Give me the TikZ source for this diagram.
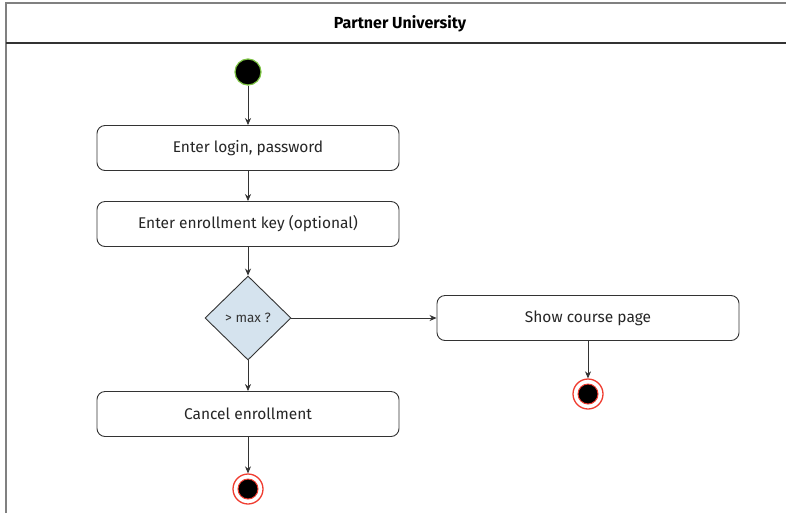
\documentclass[tikz,border=0pt]{standalone}
\usepackage{fontspec}
\setmainfont{Fira Sans}
\usetikzlibrary{shapes.geometric,arrows.meta}
\definecolor{framegray}{HTML}{808080}
\definecolor{linegray}{HTML}{333333}
\definecolor{diafill}{HTML}{D5E3EE}
\definecolor{startgreen}{HTML}{7CC242}
\definecolor{endred}{HTML}{F03C30}
\tikzset{
  actbox/.style={draw=linegray, line width=0.9pt, rounded corners=8pt, minimum width=302pt, minimum height=45pt, inner sep=0pt, font=\fontsize{15.5}{18}\selectfont, text=black!85},
  decbox/.style={draw=linegray, line width=0.9pt, diamond, fill=diafill, minimum width=86pt, minimum height=84pt, inner sep=0pt, aspect=1, font=\fontsize{13.5}{16}\selectfont, text=black!80},
  startnode/.style={circle, fill=black, draw=startgreen, line width=1.2pt, minimum size=26pt, inner sep=0pt},
  endinner/.style={circle, fill=black, draw=endred, line width=1pt, minimum size=20pt, inner sep=0pt},
  endouter/.style={circle, draw=endred, line width=1.3pt, minimum size=30pt, inner sep=0pt},
  flow/.style={draw=linegray, line width=0.8pt, -{Stealth[length=7pt,width=6pt]}},
}
\begin{document}
\begin{tikzpicture}[x=1pt,y=-1pt]
\useasboundingbox (0,0) rectangle (786,515);
\fill[white] (0,0) rectangle (786,515);
% frame
\draw[framegray, line width=1.6pt] (6,513) -- (6,3) -- (790,3);
\draw[linegray, line width=2pt] (6,43) -- (790,43);
\node[font=\bfseries\fontsize{16}{19}\selectfont] (title) at (400,24) {Partner University};
% nodes
\node[startnode] (start) at (248,72) {};
\node[actbox] (login) at (248,148) {Enter login, password};
\node[actbox] (key) at (248,224) {Enter enrollment key (optional)};
\node[decbox] (dec) at (248,318) {> max ?};
\node[actbox] (show) at (588,318) {Show course page};
\node[actbox] (cancel) at (248,414) {Cancel enrollment};
\node[endouter] (end1o) at (588,394) {};
\node[endinner] (end1) at (588,394) {};
\node[endouter] (end2o) at (248,489) {};
\node[endinner] (end2) at (248,489) {};
% connectors
\draw[flow] (start) -- (login);
\draw[flow] (login) -- (key);
\draw[flow] (key) -- (dec);
\draw[flow] (dec.east) -- (show.west);
\draw[flow] (dec) -- (cancel);
\draw[flow] (show) -- (end1o);
\draw[flow] (cancel) -- (end2o);
\end{tikzpicture}
\end{document}
